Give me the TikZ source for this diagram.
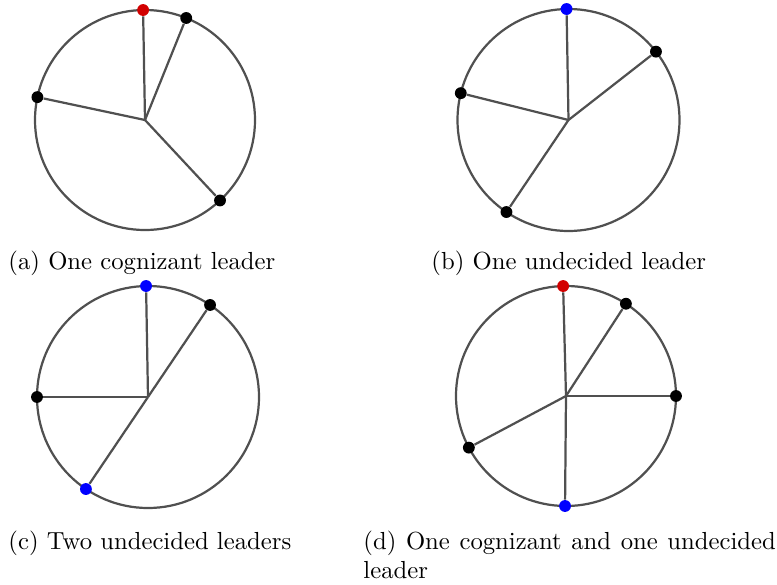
\documentclass[tikz,border=0pt]{standalone}
\usepackage{tikz}
\usetikzlibrary{positioning}

\definecolor{randgrau}{RGB}{80,80,80}
\definecolor{kogrot}{RGB}{210,0,0}
\definecolor{unblau}{RGB}{0,0,255}

\tikzset{
	kreis/.style={draw=randgrau, line width=0.9pt},
	kante/.style={draw=randgrau, line width=0.9pt},
	punkt/.style={circle, inner sep=0pt, minimum size=4.8pt},
	titel/.style={anchor=base west, inner sep=0pt, font=\normalsize}
}

\begin{document}
\begin{tikzpicture}[x=0.405pt, y=0.405pt]
			\useasboundingbox (0,0) rectangle (777,584);
			
			% Mittelpunkte
			\coordinate (ma) at (145,464);
			\coordinate (mb) at (568.5,464);
			\coordinate (mc) at (148,187);
			\coordinate (md) at (566,188);
			
			% (a) ein kognitiver Anfuehrer
			\draw[kreis] (ma) circle[radius=110];
			\foreach \w/\f [count=\i] in {91/kogrot,68/black,168/black,-47/black} {
				\node[punkt, fill=\f] (a\i) at ([shift={(\w:110)}]ma) {};
				\draw[kante] (ma) -- (a\i);
			}
			
			% (b) ein unentschiedener Anfuehrer
			\draw[kreis] (mb) circle[radius=111];
			\foreach \w/\f [count=\i] in {91/unblau,38/black,166/black,236/black} {
				\node[punkt, fill=\f] (b\i) at ([shift={(\w:111)}]mb) {};
				\draw[kante] (mb) -- (b\i);
			}
			
			% (c) zwei unentschiedene Anfuehrer
			\draw[kreis] (mc) circle[radius=111];
			\foreach \w/\f [count=\i] in {91/unblau,56/black,180/black,236/unblau} {
				\node[punkt, fill=\f] (c\i) at ([shift={(\w:111)}]mc) {};
				\draw[kante] (mc) -- (c\i);
			}
			
			% (d) ein kognitiver und ein unentschiedener Anfuehrer
			\draw[kreis] (md) circle[radius=110];
			\foreach \w/\f [count=\i] in {91.5/kogrot,57/black,0/black,208/black,269.5/unblau} {
				\node[punkt, fill=\f] (d\i) at ([shift={(\w:110)}]md) {};
				\draw[kante] (md) -- (d\i);
			}
			
			% Beschriftungen
			\node[titel] (ta) at (8,315) {(a) One cognizant leader};
			\node[titel] (tb) at (431,315) {(b) One undecided leader};
			\node[titel] (tc) at (8,35) {(c) Two undecided leaders};
			\node[titel, text width=167pt, align=justify] (td) at (363,35) {(d) One cognizant and one undecided leader};
		\end{tikzpicture}
\end{document}
